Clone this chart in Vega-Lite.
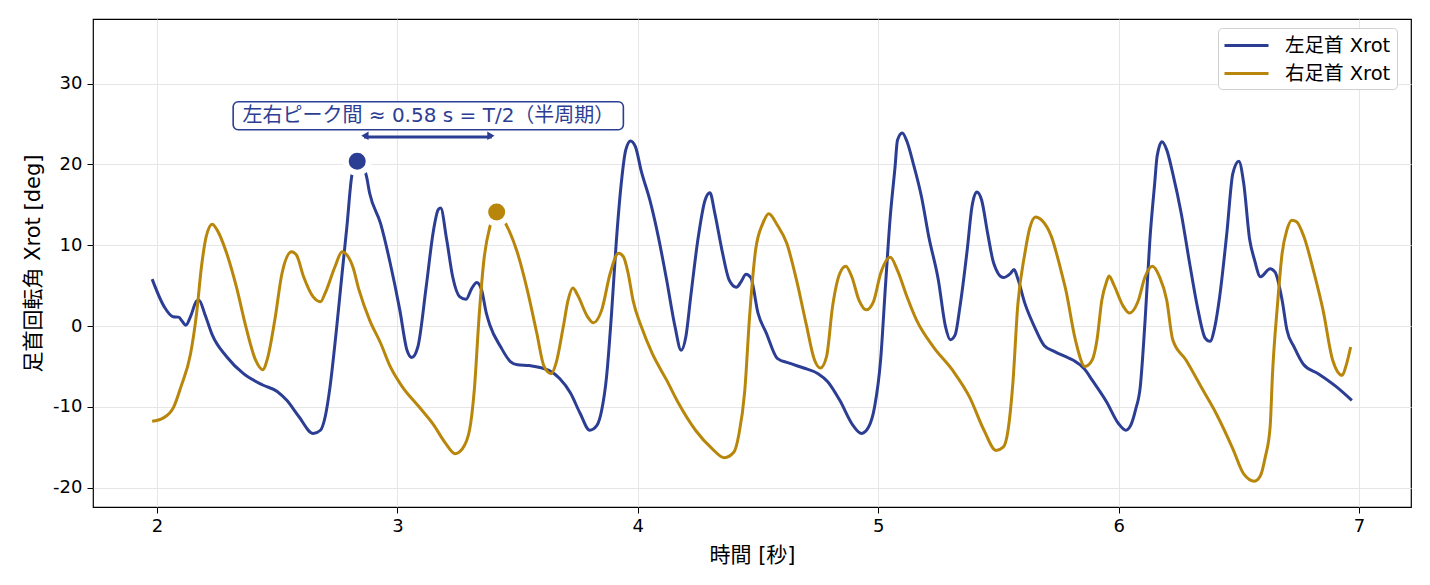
{
  "$schema": "https://vega.github.io/schema/vega-lite/v6.json",
  "width": 1318,
  "height": 488,
  "autosize": "none",
  "padding": {"left": 93, "top": 19, "right": 19, "bottom": 78},
  "background": "white",
  "config": {
    "font": "DejaVu Sans, Noto Sans CJK JP",
    "view": {"stroke": "black", "strokeWidth": 1.2},
    "axis": {
      "domain": false,
      "grid": true,
      "gridColor": "#e6e6e6",
      "gridWidth": 1,
      "tickColor": "black",
      "tickSize": 6,
      "tickWidth": 1,
      "labelFontSize": 18,
      "labelColor": "black",
      "labelPadding": 4,
      "titleFontSize": 21,
      "titleFontWeight": "normal",
      "titleColor": "black",
      "titlePadding": 9
    }
  },
  "datasets": {
    "lines": [
      {"t": 1.98, "v": 5.8, "side": "左足首 Xrot"},
      {"t": 2.03, "v": 2.4, "side": "左足首 Xrot"},
      {"t": 2.067, "v": 1.15, "side": "左足首 Xrot"},
      {"t": 2.09, "v": 1.1, "side": "左足首 Xrot"},
      {"t": 2.105, "v": 0.6, "side": "左足首 Xrot"},
      {"t": 2.12, "v": 0.1, "side": "左足首 Xrot"},
      {"t": 2.14, "v": 1.2, "side": "左足首 Xrot"},
      {"t": 2.165, "v": 3.1, "side": "左足首 Xrot"},
      {"t": 2.175, "v": 3.2, "side": "左足首 Xrot"},
      {"t": 2.2, "v": 1.4, "side": "左足首 Xrot"},
      {"t": 2.23, "v": -1.1, "side": "左足首 Xrot"},
      {"t": 2.29, "v": -3.8, "side": "左足首 Xrot"},
      {"t": 2.36, "v": -5.9, "side": "左足首 Xrot"},
      {"t": 2.44, "v": -7.3, "side": "左足首 Xrot"},
      {"t": 2.5, "v": -8.1, "side": "左足首 Xrot"},
      {"t": 2.54, "v": -9.2, "side": "左足首 Xrot"},
      {"t": 2.59, "v": -11.2, "side": "左足首 Xrot"},
      {"t": 2.65, "v": -13.3, "side": "左足首 Xrot"},
      {"t": 2.68, "v": -12.9, "side": "左足首 Xrot"},
      {"t": 2.7, "v": -11.2, "side": "左足首 Xrot"},
      {"t": 2.72, "v": -7.5, "side": "左足首 Xrot"},
      {"t": 2.745, "v": -0.9, "side": "左足首 Xrot"},
      {"t": 2.77, "v": 6.5, "side": "左足首 Xrot"},
      {"t": 2.79, "v": 12.3, "side": "左足首 Xrot"},
      {"t": 2.81, "v": 18.5, "side": "左足首 Xrot"},
      {"t": 2.833, "v": 20.6, "side": "左足首 Xrot"},
      {"t": 2.87, "v": 18.7, "side": "左足首 Xrot"},
      {"t": 2.885, "v": 16.4, "side": "左足首 Xrot"},
      {"t": 2.93, "v": 12.7, "side": "左足首 Xrot"},
      {"t": 2.97, "v": 7.8, "side": "左足首 Xrot"},
      {"t": 3.01, "v": 2.0, "side": "左足首 Xrot"},
      {"t": 3.04, "v": -3.0, "side": "左足首 Xrot"},
      {"t": 3.06, "v": -3.9, "side": "左足首 Xrot"},
      {"t": 3.085, "v": -2.6, "side": "左足首 Xrot"},
      {"t": 3.12, "v": 4.9, "side": "左足首 Xrot"},
      {"t": 3.15, "v": 11.8, "side": "左足首 Xrot"},
      {"t": 3.17, "v": 14.4, "side": "左足首 Xrot"},
      {"t": 3.18, "v": 14.6, "side": "左足首 Xrot"},
      {"t": 3.205, "v": 10.7, "side": "左足首 Xrot"},
      {"t": 3.23, "v": 6.1, "side": "左足首 Xrot"},
      {"t": 3.26, "v": 3.6, "side": "左足首 Xrot"},
      {"t": 3.285, "v": 3.3, "side": "左足首 Xrot"},
      {"t": 3.31, "v": 4.7, "side": "左足首 Xrot"},
      {"t": 3.33, "v": 5.4, "side": "左足首 Xrot"},
      {"t": 3.35, "v": 4.5, "side": "左足首 Xrot"},
      {"t": 3.37, "v": 1.6, "side": "左足首 Xrot"},
      {"t": 3.385, "v": 0.1, "side": "左足首 Xrot"},
      {"t": 3.43, "v": -2.6, "side": "左足首 Xrot"},
      {"t": 3.47, "v": -4.4, "side": "左足首 Xrot"},
      {"t": 3.5, "v": -4.8, "side": "左足首 Xrot"},
      {"t": 3.55, "v": -4.9, "side": "左足首 Xrot"},
      {"t": 3.63, "v": -5.5, "side": "左足首 Xrot"},
      {"t": 3.675, "v": -6.5, "side": "左足首 Xrot"},
      {"t": 3.72, "v": -8.3, "side": "左足首 Xrot"},
      {"t": 3.76, "v": -10.8, "side": "左足首 Xrot"},
      {"t": 3.8, "v": -12.9, "side": "左足首 Xrot"},
      {"t": 3.83, "v": -12.3, "side": "左足首 Xrot"},
      {"t": 3.85, "v": -10.4, "side": "左足首 Xrot"},
      {"t": 3.87, "v": -6.3, "side": "左足首 Xrot"},
      {"t": 3.89, "v": 1.2, "side": "左足首 Xrot"},
      {"t": 3.91, "v": 10.2, "side": "左足首 Xrot"},
      {"t": 3.93, "v": 17.3, "side": "左足首 Xrot"},
      {"t": 3.95, "v": 21.8, "side": "左足首 Xrot"},
      {"t": 3.97, "v": 22.9, "side": "左足首 Xrot"},
      {"t": 3.99, "v": 22.2, "side": "左足首 Xrot"},
      {"t": 4.015, "v": 19.1, "side": "左足首 Xrot"},
      {"t": 4.05, "v": 15.6, "side": "左足首 Xrot"},
      {"t": 4.085, "v": 11.1, "side": "左足首 Xrot"},
      {"t": 4.12, "v": 5.7, "side": "左足首 Xrot"},
      {"t": 4.155, "v": -0.1, "side": "左足首 Xrot"},
      {"t": 4.18, "v": -3.0, "side": "左足首 Xrot"},
      {"t": 4.2, "v": -1.3, "side": "左足首 Xrot"},
      {"t": 4.22, "v": 3.6, "side": "左足首 Xrot"},
      {"t": 4.25, "v": 10.7, "side": "左足首 Xrot"},
      {"t": 4.28, "v": 15.6, "side": "左足首 Xrot"},
      {"t": 4.3, "v": 16.5, "side": "左足首 Xrot"},
      {"t": 4.32, "v": 14.0, "side": "左足首 Xrot"},
      {"t": 4.35, "v": 9.4, "side": "左足首 Xrot"},
      {"t": 4.38, "v": 5.7, "side": "左足首 Xrot"},
      {"t": 4.41, "v": 4.8, "side": "左足首 Xrot"},
      {"t": 4.43, "v": 5.5, "side": "左足首 Xrot"},
      {"t": 4.45, "v": 6.4, "side": "左足首 Xrot"},
      {"t": 4.47, "v": 6.0, "side": "左足首 Xrot"},
      {"t": 4.5, "v": 1.6, "side": "左足首 Xrot"},
      {"t": 4.535, "v": -0.9, "side": "左足首 Xrot"},
      {"t": 4.58, "v": -4.0, "side": "左足首 Xrot"},
      {"t": 4.63, "v": -4.6, "side": "左足首 Xrot"},
      {"t": 4.69, "v": -5.2, "side": "左足首 Xrot"},
      {"t": 4.75, "v": -5.9, "side": "左足首 Xrot"},
      {"t": 4.79, "v": -6.9, "side": "左足首 Xrot"},
      {"t": 4.84, "v": -9.2, "side": "左足首 Xrot"},
      {"t": 4.895, "v": -12.3, "side": "左足首 Xrot"},
      {"t": 4.93, "v": -13.3, "side": "左足首 Xrot"},
      {"t": 4.96, "v": -12.5, "side": "左足首 Xrot"},
      {"t": 4.985, "v": -10.0, "side": "左足首 Xrot"},
      {"t": 5.01, "v": -4.2, "side": "左足首 Xrot"},
      {"t": 5.03, "v": 4.9, "side": "左足首 Xrot"},
      {"t": 5.05, "v": 13.5, "side": "左足首 Xrot"},
      {"t": 5.07, "v": 19.7, "side": "左足首 Xrot"},
      {"t": 5.08, "v": 23.0, "side": "左足首 Xrot"},
      {"t": 5.1, "v": 23.9, "side": "左足首 Xrot"},
      {"t": 5.12, "v": 22.8, "side": "左足首 Xrot"},
      {"t": 5.145, "v": 20.2, "side": "左足首 Xrot"},
      {"t": 5.18, "v": 16.0, "side": "左足首 Xrot"},
      {"t": 5.21, "v": 11.1, "side": "左足首 Xrot"},
      {"t": 5.25, "v": 5.7, "side": "左足首 Xrot"},
      {"t": 5.28, "v": -0.1, "side": "左足首 Xrot"},
      {"t": 5.3, "v": -1.7, "side": "左足首 Xrot"},
      {"t": 5.32, "v": -1.1, "side": "左足首 Xrot"},
      {"t": 5.34, "v": 2.4, "side": "左足首 Xrot"},
      {"t": 5.37, "v": 9.4, "side": "左足首 Xrot"},
      {"t": 5.39, "v": 14.8, "side": "左足首 Xrot"},
      {"t": 5.41, "v": 16.6, "side": "左足首 Xrot"},
      {"t": 5.43, "v": 15.6, "side": "左足首 Xrot"},
      {"t": 5.455, "v": 11.5, "side": "左足首 Xrot"},
      {"t": 5.48, "v": 7.8, "side": "左足首 Xrot"},
      {"t": 5.52, "v": 6.0, "side": "左足首 Xrot"},
      {"t": 5.55, "v": 6.5, "side": "左足首 Xrot"},
      {"t": 5.565, "v": 7.0, "side": "左足首 Xrot"},
      {"t": 5.58, "v": 5.9, "side": "左足首 Xrot"},
      {"t": 5.61, "v": 2.8, "side": "左足首 Xrot"},
      {"t": 5.65, "v": -0.1, "side": "左足首 Xrot"},
      {"t": 5.69, "v": -2.4, "side": "左足首 Xrot"},
      {"t": 5.73, "v": -3.1, "side": "左足首 Xrot"},
      {"t": 5.78, "v": -3.8, "side": "左足首 Xrot"},
      {"t": 5.81, "v": -4.2, "side": "左足首 Xrot"},
      {"t": 5.86, "v": -5.4, "side": "左足首 Xrot"},
      {"t": 5.89, "v": -6.7, "side": "左足首 Xrot"},
      {"t": 5.95, "v": -9.4, "side": "左足首 Xrot"},
      {"t": 6.0, "v": -12.1, "side": "左足首 Xrot"},
      {"t": 6.03, "v": -12.9, "side": "左足首 Xrot"},
      {"t": 6.05, "v": -12.3, "side": "左足首 Xrot"},
      {"t": 6.07, "v": -10.4, "side": "左足首 Xrot"},
      {"t": 6.09, "v": -7.5, "side": "左足首 Xrot"},
      {"t": 6.11, "v": 0.7, "side": "左足首 Xrot"},
      {"t": 6.13, "v": 10.7, "side": "左足首 Xrot"},
      {"t": 6.15, "v": 17.7, "side": "左足首 Xrot"},
      {"t": 6.16, "v": 21.0, "side": "左足首 Xrot"},
      {"t": 6.18, "v": 22.8, "side": "左足首 Xrot"},
      {"t": 6.2, "v": 21.8, "side": "左足首 Xrot"},
      {"t": 6.225, "v": 18.9, "side": "左足首 Xrot"},
      {"t": 6.26, "v": 14.0, "side": "左足首 Xrot"},
      {"t": 6.295, "v": 7.8, "side": "左足首 Xrot"},
      {"t": 6.33, "v": 2.0, "side": "左足首 Xrot"},
      {"t": 6.36, "v": -1.5, "side": "左足首 Xrot"},
      {"t": 6.38, "v": -1.9, "side": "左足首 Xrot"},
      {"t": 6.4, "v": -0.1, "side": "左足首 Xrot"},
      {"t": 6.42, "v": 3.6, "side": "左足首 Xrot"},
      {"t": 6.45, "v": 11.5, "side": "左足首 Xrot"},
      {"t": 6.475, "v": 18.9, "side": "左足首 Xrot"},
      {"t": 6.5, "v": 20.4, "side": "左足首 Xrot"},
      {"t": 6.52, "v": 17.7, "side": "左足首 Xrot"},
      {"t": 6.545, "v": 10.7, "side": "左足首 Xrot"},
      {"t": 6.565, "v": 8.2, "side": "左足首 Xrot"},
      {"t": 6.59, "v": 6.1, "side": "左足首 Xrot"},
      {"t": 6.63, "v": 7.1, "side": "左足首 Xrot"},
      {"t": 6.65, "v": 6.7, "side": "左足首 Xrot"},
      {"t": 6.68, "v": 3.2, "side": "左足首 Xrot"},
      {"t": 6.7, "v": -0.5, "side": "左足首 Xrot"},
      {"t": 6.73, "v": -2.6, "side": "左足首 Xrot"},
      {"t": 6.77, "v": -4.8, "side": "左足首 Xrot"},
      {"t": 6.83, "v": -5.9, "side": "左足首 Xrot"},
      {"t": 6.905, "v": -7.5, "side": "左足首 Xrot"},
      {"t": 6.97, "v": -9.2, "side": "左足首 Xrot"},
      {"t": 1.98, "v": -11.8, "side": "右足首 Xrot"},
      {"t": 2.025, "v": -11.4, "side": "右足首 Xrot"},
      {"t": 2.07, "v": -10.0, "side": "右足首 Xrot"},
      {"t": 2.1, "v": -7.5, "side": "右足首 Xrot"},
      {"t": 2.14, "v": -3.4, "side": "右足首 Xrot"},
      {"t": 2.165, "v": 1.6, "side": "右足首 Xrot"},
      {"t": 2.185, "v": 7.3, "side": "右足首 Xrot"},
      {"t": 2.205, "v": 11.1, "side": "右足首 Xrot"},
      {"t": 2.23, "v": 12.6, "side": "右足首 Xrot"},
      {"t": 2.25, "v": 11.9, "side": "右足首 Xrot"},
      {"t": 2.29, "v": 9.0, "side": "右足首 Xrot"},
      {"t": 2.33, "v": 4.9, "side": "右足首 Xrot"},
      {"t": 2.37, "v": -0.1, "side": "右足首 Xrot"},
      {"t": 2.41, "v": -4.2, "side": "右足首 Xrot"},
      {"t": 2.44, "v": -5.4, "side": "右足首 Xrot"},
      {"t": 2.46, "v": -4.0, "side": "右足首 Xrot"},
      {"t": 2.49, "v": 0.7, "side": "右足首 Xrot"},
      {"t": 2.52, "v": 6.5, "side": "右足首 Xrot"},
      {"t": 2.56, "v": 9.2, "side": "右足首 Xrot"},
      {"t": 2.58, "v": 8.8, "side": "右足首 Xrot"},
      {"t": 2.61, "v": 6.1, "side": "右足首 Xrot"},
      {"t": 2.65, "v": 3.6, "side": "右足首 Xrot"},
      {"t": 2.68, "v": 3.0, "side": "右足首 Xrot"},
      {"t": 2.7, "v": 4.1, "side": "右足首 Xrot"},
      {"t": 2.74, "v": 7.3, "side": "右足首 Xrot"},
      {"t": 2.77, "v": 9.2, "side": "右足首 Xrot"},
      {"t": 2.79, "v": 8.8, "side": "右足首 Xrot"},
      {"t": 2.815, "v": 7.3, "side": "右足首 Xrot"},
      {"t": 2.84, "v": 4.5, "side": "右足首 Xrot"},
      {"t": 2.885, "v": 0.7, "side": "右足首 Xrot"},
      {"t": 2.93, "v": -2.1, "side": "右足首 Xrot"},
      {"t": 2.97, "v": -5.0, "side": "右足首 Xrot"},
      {"t": 3.02, "v": -7.5, "side": "右足首 Xrot"},
      {"t": 3.09, "v": -10.0, "side": "右足首 Xrot"},
      {"t": 3.15, "v": -12.2, "side": "右足首 Xrot"},
      {"t": 3.2, "v": -14.5, "side": "右足首 Xrot"},
      {"t": 3.24, "v": -15.8, "side": "右足首 Xrot"},
      {"t": 3.27, "v": -15.2, "side": "右足首 Xrot"},
      {"t": 3.3, "v": -12.9, "side": "右足首 Xrot"},
      {"t": 3.32, "v": -7.9, "side": "右足首 Xrot"},
      {"t": 3.34, "v": 1.2, "side": "右足首 Xrot"},
      {"t": 3.36, "v": 8.2, "side": "右足首 Xrot"},
      {"t": 3.385, "v": 12.3, "side": "右足首 Xrot"},
      {"t": 3.413, "v": 14.1, "side": "右足首 Xrot"},
      {"t": 3.455, "v": 12.4, "side": "右足首 Xrot"},
      {"t": 3.5, "v": 9.0, "side": "右足首 Xrot"},
      {"t": 3.54, "v": 4.5, "side": "右足首 Xrot"},
      {"t": 3.58, "v": -0.9, "side": "右足首 Xrot"},
      {"t": 3.61, "v": -5.0, "side": "右足首 Xrot"},
      {"t": 3.64, "v": -5.9, "side": "右足首 Xrot"},
      {"t": 3.66, "v": -4.6, "side": "右足首 Xrot"},
      {"t": 3.69, "v": -0.1, "side": "右足首 Xrot"},
      {"t": 3.71, "v": 3.2, "side": "右足首 Xrot"},
      {"t": 3.73, "v": 4.7, "side": "右足首 Xrot"},
      {"t": 3.75, "v": 3.8, "side": "右足首 Xrot"},
      {"t": 3.79, "v": 1.2, "side": "右足首 Xrot"},
      {"t": 3.815, "v": 0.4, "side": "右足首 Xrot"},
      {"t": 3.85, "v": 2.0, "side": "右足首 Xrot"},
      {"t": 3.885, "v": 6.5, "side": "右足首 Xrot"},
      {"t": 3.92, "v": 9.0, "side": "右足首 Xrot"},
      {"t": 3.94, "v": 8.6, "side": "右足首 Xrot"},
      {"t": 3.96, "v": 6.5, "side": "右足首 Xrot"},
      {"t": 3.98, "v": 3.2, "side": "右足首 Xrot"},
      {"t": 4.015, "v": -0.1, "side": "右足首 Xrot"},
      {"t": 4.06, "v": -3.4, "side": "右足首 Xrot"},
      {"t": 4.12, "v": -6.7, "side": "右足首 Xrot"},
      {"t": 4.17, "v": -9.6, "side": "右足首 Xrot"},
      {"t": 4.24, "v": -12.9, "side": "右足首 Xrot"},
      {"t": 4.31, "v": -15.2, "side": "右足首 Xrot"},
      {"t": 4.36, "v": -16.3, "side": "右足首 Xrot"},
      {"t": 4.4, "v": -15.6, "side": "右足首 Xrot"},
      {"t": 4.42, "v": -13.5, "side": "右足首 Xrot"},
      {"t": 4.445, "v": -8.0, "side": "右足首 Xrot"},
      {"t": 4.465, "v": 1.2, "side": "右足首 Xrot"},
      {"t": 4.49, "v": 9.4, "side": "右足首 Xrot"},
      {"t": 4.52, "v": 12.7, "side": "右足首 Xrot"},
      {"t": 4.545, "v": 13.9, "side": "右足首 Xrot"},
      {"t": 4.58, "v": 12.5, "side": "右足首 Xrot"},
      {"t": 4.62, "v": 10.2, "side": "右足首 Xrot"},
      {"t": 4.66, "v": 5.7, "side": "右足首 Xrot"},
      {"t": 4.7, "v": 0.3, "side": "右足首 Xrot"},
      {"t": 4.735, "v": -4.2, "side": "右足首 Xrot"},
      {"t": 4.76, "v": -5.2, "side": "右足首 Xrot"},
      {"t": 4.785, "v": -3.8, "side": "右足首 Xrot"},
      {"t": 4.81, "v": 2.4, "side": "右足首 Xrot"},
      {"t": 4.84, "v": 6.5, "side": "右足首 Xrot"},
      {"t": 4.865, "v": 7.4, "side": "右足首 Xrot"},
      {"t": 4.89, "v": 6.1, "side": "右足首 Xrot"},
      {"t": 4.92, "v": 3.2, "side": "右足首 Xrot"},
      {"t": 4.95, "v": 2.0, "side": "右足首 Xrot"},
      {"t": 4.98, "v": 3.0, "side": "右足首 Xrot"},
      {"t": 5.01, "v": 6.5, "side": "右足首 Xrot"},
      {"t": 5.05, "v": 8.5, "side": "右足首 Xrot"},
      {"t": 5.08, "v": 6.9, "side": "右足首 Xrot"},
      {"t": 5.12, "v": 3.6, "side": "右足首 Xrot"},
      {"t": 5.16, "v": 0.7, "side": "右足首 Xrot"},
      {"t": 5.23, "v": -2.6, "side": "右足首 Xrot"},
      {"t": 5.31, "v": -5.5, "side": "右足首 Xrot"},
      {"t": 5.38, "v": -8.8, "side": "右足首 Xrot"},
      {"t": 5.44, "v": -12.9, "side": "右足首 Xrot"},
      {"t": 5.49, "v": -15.4, "side": "右足首 Xrot"},
      {"t": 5.52, "v": -15.0, "side": "右足首 Xrot"},
      {"t": 5.54, "v": -12.9, "side": "右足首 Xrot"},
      {"t": 5.56, "v": -7.1, "side": "右足首 Xrot"},
      {"t": 5.58, "v": 2.4, "side": "右足首 Xrot"},
      {"t": 5.61, "v": 9.0, "side": "右足首 Xrot"},
      {"t": 5.63, "v": 12.1, "side": "右足首 Xrot"},
      {"t": 5.655, "v": 13.5, "side": "右足首 Xrot"},
      {"t": 5.68, "v": 13.1, "side": "右足首 Xrot"},
      {"t": 5.72, "v": 11.1, "side": "右足首 Xrot"},
      {"t": 5.76, "v": 6.9, "side": "右足首 Xrot"},
      {"t": 5.78, "v": 4.5, "side": "右足首 Xrot"},
      {"t": 5.82, "v": -1.7, "side": "右足首 Xrot"},
      {"t": 5.86, "v": -5.0, "side": "右足首 Xrot"},
      {"t": 5.89, "v": -4.2, "side": "右足首 Xrot"},
      {"t": 5.91, "v": -1.7, "side": "右足首 Xrot"},
      {"t": 5.93, "v": 3.2, "side": "右足首 Xrot"},
      {"t": 5.95, "v": 5.5, "side": "右足首 Xrot"},
      {"t": 5.96, "v": 6.2, "side": "右足首 Xrot"},
      {"t": 5.98, "v": 5.1, "side": "右足首 Xrot"},
      {"t": 6.02, "v": 2.4, "side": "右足首 Xrot"},
      {"t": 6.045, "v": 1.6, "side": "右足首 Xrot"},
      {"t": 6.08, "v": 3.0, "side": "右足首 Xrot"},
      {"t": 6.11, "v": 6.1, "side": "右足首 Xrot"},
      {"t": 6.14, "v": 7.4, "side": "右足首 Xrot"},
      {"t": 6.17, "v": 6.1, "side": "右足首 Xrot"},
      {"t": 6.2, "v": 3.2, "side": "右足首 Xrot"},
      {"t": 6.225, "v": -1.7, "side": "右足首 Xrot"},
      {"t": 6.28, "v": -4.2, "side": "右足首 Xrot"},
      {"t": 6.35, "v": -7.9, "side": "右足首 Xrot"},
      {"t": 6.405, "v": -10.8, "side": "右足首 Xrot"},
      {"t": 6.475, "v": -15.2, "side": "右足首 Xrot"},
      {"t": 6.52, "v": -18.3, "side": "右足首 Xrot"},
      {"t": 6.565, "v": -19.2, "side": "右足首 Xrot"},
      {"t": 6.59, "v": -18.5, "side": "右足首 Xrot"},
      {"t": 6.61, "v": -16.2, "side": "右足首 Xrot"},
      {"t": 6.63, "v": -12.5, "side": "右足首 Xrot"},
      {"t": 6.64, "v": -5.9, "side": "右足首 Xrot"},
      {"t": 6.66, "v": 2.4, "side": "右足首 Xrot"},
      {"t": 6.68, "v": 9.0, "side": "右足首 Xrot"},
      {"t": 6.7, "v": 11.9, "side": "右足首 Xrot"},
      {"t": 6.72, "v": 13.1, "side": "右足首 Xrot"},
      {"t": 6.74, "v": 12.9, "side": "右足首 Xrot"},
      {"t": 6.77, "v": 11.1, "side": "右足首 Xrot"},
      {"t": 6.81, "v": 6.9, "side": "右足首 Xrot"},
      {"t": 6.85, "v": 2.0, "side": "右足首 Xrot"},
      {"t": 6.89, "v": -4.2, "side": "右足首 Xrot"},
      {"t": 6.93, "v": -6.1, "side": "右足首 Xrot"},
      {"t": 6.945, "v": -5.0, "side": "右足首 Xrot"},
      {"t": 6.965, "v": -2.6, "side": "右足首 Xrot"}
    ],
    "peaks": [
      {"t": 2.833, "v": 20.4, "side": "左足首 Xrot"},
      {"t": 3.413, "v": 14.1, "side": "右足首 Xrot"}
    ],
    "arrow": [
      {"t": 2.861, "t2": 3.393, "v": 23.4}
    ],
    "heads": [
      {"t": 2.865, "v": 23.55, "end": "start"},
      {"t": 3.389, "v": 23.55, "end": "end"}
    ],
    "box": [
      {"t": 2.317, "t2": 3.94, "v": 24.3, "v2": 27.75}
    ],
    "note": [
      {"t": 3.129, "v": 26.0, "label": "左右ピーク間 ≈ 0.58 s = T/2（半周期）"}
    ]
  },
  "layer": [
    {
      "data": {"name": "lines"},
      "mark": {"type": "line", "strokeWidth": 3, "interpolate": "monotone"},
      "encoding": {
        "x": {
          "field": "t",
          "type": "quantitative",
          "scale": {"domain": [1.734, 7.216], "nice": false, "zero": false},
          "axis": {"title": "時間 [秒]", "values": [2, 3, 4, 5, 6, 7], "labelExpr": "datum.value + ''"}
        },
        "y": {
          "field": "v",
          "type": "quantitative",
          "scale": {"domain": [-22.4, 38.0], "nice": false, "zero": false},
          "axis": {
            "title": "足首回転角 Xrot [deg]",
            "values": [-20, -10, 0, 10, 20, 30],
            "labelExpr": "datum.value + ''",
            "labelPadding": 5
          }
        },
        "color": {
          "field": "side",
          "type": "nominal",
          "scale": {
            "domain": ["左足首 Xrot", "右足首 Xrot"],
            "range": ["#2c3e94", "#b8860b"]
          },
          "legend": {
            "title": null,
            "orient": "none",
            "legendX": 1125,
            "legendY": 9,
            "symbolType": "M-1.1,0H3.3",
            "symbolStrokeWidth": 3,
            "symbolSize": 400,
            "labelFontSize": 19.5,
            "labelColor": "black",
            "labelOffset": 38,
            "fillColor": "white",
            "strokeColor": "#d0d0d0",
            "cornerRadius": 4,
            "padding": 6,
            "rowPadding": 7
          }
        }
      }
    },
    {
      "data": {"name": "peaks"},
      "mark": {"type": "circle", "size": 530, "stroke": "white", "strokeWidth": 6, "opacity": 1},
      "encoding": {
        "x": {"field": "t", "type": "quantitative", "scale": {"domain": [1.734, 7.216], "nice": false, "zero": false}},
        "y": {"field": "v", "type": "quantitative", "scale": {"domain": [-22.4, 38.0], "nice": false, "zero": false}},
        "fill": {
          "field": "side",
          "type": "nominal",
          "scale": {
            "domain": ["左足首 Xrot", "右足首 Xrot"],
            "range": ["#2c3e94", "#b8860b"]
          },
          "legend": null
        }
      }
    },
    {
      "data": {"name": "arrow"},
      "mark": {"type": "rule", "color": "#2c3e94", "strokeWidth": 3},
      "encoding": {
        "x": {"field": "t", "type": "quantitative", "scale": {"domain": [1.734, 7.216], "nice": false, "zero": false}},
        "x2": {"field": "t2"},
        "y": {"field": "v", "type": "quantitative", "scale": {"domain": [-22.4, 38.0], "nice": false, "zero": false}}
      }
    },
    {
      "data": {"name": "heads"},
      "mark": {"type": "point", "filled": true, "color": "#2c3e94", "size": 70, "opacity": 1},
      "encoding": {
        "x": {"field": "t", "type": "quantitative", "scale": {"domain": [1.734, 7.216], "nice": false, "zero": false}},
        "y": {"field": "v", "type": "quantitative", "scale": {"domain": [-22.4, 38.0], "nice": false, "zero": false}},
        "shape": {
          "field": "end",
          "type": "nominal",
          "scale": {"domain": ["start", "end"], "range": ["triangle-left", "triangle-right"]},
          "legend": null
        }
      }
    },
    {
      "data": {"name": "box"},
      "mark": {"type": "rect", "fill": "white", "stroke": "#2c3e94", "strokeWidth": 1.6, "cornerRadius": 5},
      "encoding": {
        "x": {"field": "t", "type": "quantitative", "scale": {"domain": [1.734, 7.216], "nice": false, "zero": false}},
        "x2": {"field": "t2"},
        "y": {"field": "v", "type": "quantitative", "scale": {"domain": [-22.4, 38.0], "nice": false, "zero": false}},
        "y2": {"field": "v2"}
      }
    },
    {
      "data": {"name": "note"},
      "mark": {"type": "text", "fontSize": 20, "color": "#2c3e94", "align": "center", "baseline": "middle"},
      "encoding": {
        "x": {"field": "t", "type": "quantitative", "scale": {"domain": [1.734, 7.216], "nice": false, "zero": false}},
        "y": {"field": "v", "type": "quantitative", "scale": {"domain": [-22.4, 38.0], "nice": false, "zero": false}},
        "text": {"field": "label"}
      }
    }
  ]
}
